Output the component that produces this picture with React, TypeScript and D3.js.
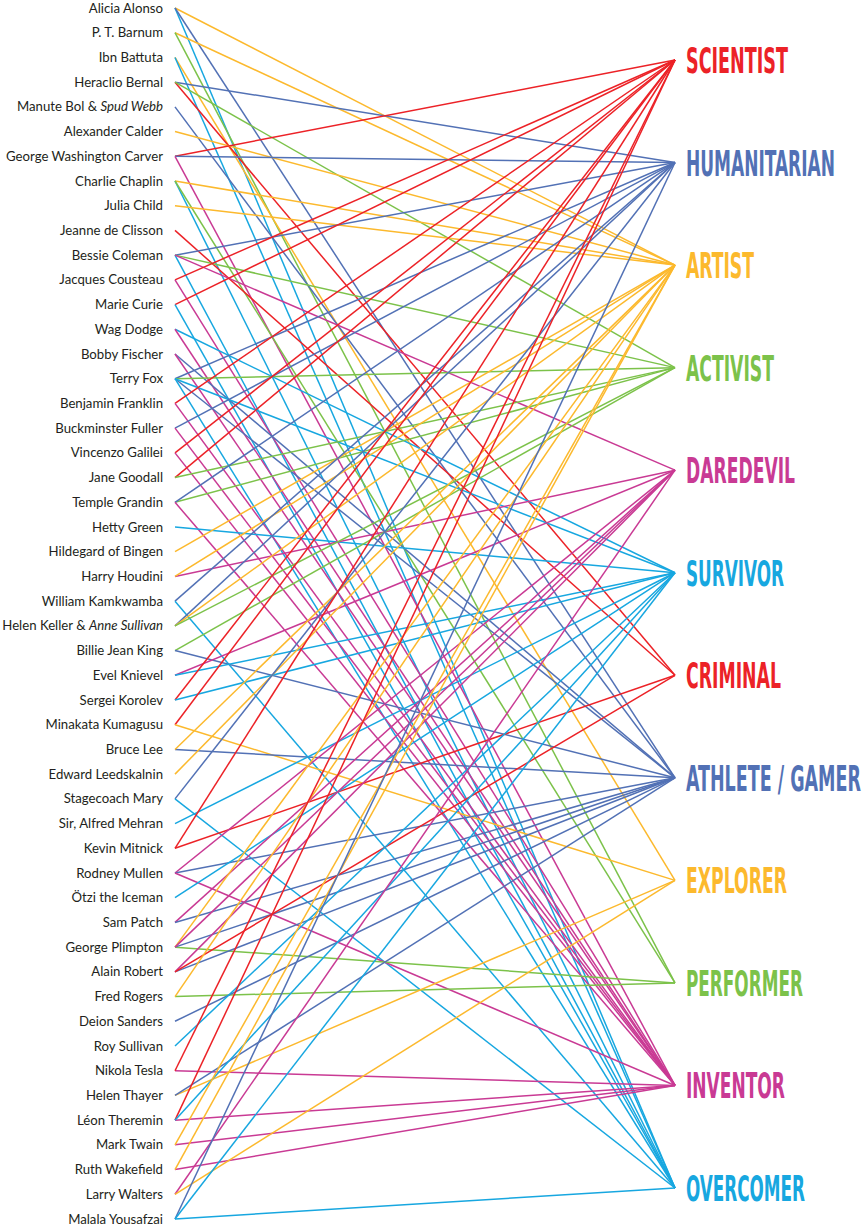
import React, { useLayoutEffect, useRef } from "react";
import * as d3 from "d3";

const people: string[] = [
  "Alicia Alonso", "P. T. Barnum", "Ibn Battuta", "Heraclio Bernal", "Manute Bol & |Spud Webb",
  "Alexander Calder", "George Washington Carver", "Charlie Chaplin", "Julia Child", "Jeanne de Clisson",
  "Bessie Coleman", "Jacques Cousteau", "Marie Curie", "Wag Dodge", "Bobby Fischer",
  "Terry Fox", "Benjamin Franklin", "Buckminster Fuller", "Vincenzo Galilei", "Jane Goodall",
  "Temple Grandin", "Hetty Green", "Hildegard of Bingen", "Harry Houdini", "William Kamkwamba",
  "Helen Keller & |Anne Sullivan", "Billie Jean King", "Evel Knievel", "Sergei Korolev", "Minakata Kumagusu",
  "Bruce Lee", "Edward Leedskalnin", "Stagecoach Mary", "Sir, Alfred Mehran", "Kevin Mitnick",
  "Rodney Mullen", "Ötzi the Iceman", "Sam Patch", "George Plimpton", "Alain Robert",
  "Fred Rogers", "Deion Sanders", "Roy Sullivan", "Nikola Tesla", "Helen Thayer",
  "Léon Theremin", "Mark Twain", "Ruth Wakefield", "Larry Walters", "Malala Yousafzai",
];

const categories: string[] = [
  "SCIENTIST", "HUMANITARIAN", "ARTIST", "ACTIVIST", "DAREDEVIL", "SURVIVOR",
  "CRIMINAL", "ATHLETE / GAMER", "EXPLORER", "PERFORMER", "INVENTOR", "OVERCOMER",
];

const categoryColors: string[] = [
  "#ec2227", "#5271b5", "#fcb92d", "#7cc24a", "#c93a94", "#17a7e0",
  "#ec2227", "#5271b5", "#fcb92d", "#7cc24a", "#c93a94", "#17a7e0",
];

const labelWidths: number[] = [102, 149, 68, 88, 109, 98, 95, 175, 101, 117, 99, 119];

// categories linked to each person (same order as people)
const connections: string[][] = [
  ["ARTIST", "OVERCOMER", "ATHLETE / GAMER"],
  ["ARTIST", "PERFORMER"],
  ["EXPLORER", "OVERCOMER"],
  ["HUMANITARIAN", "CRIMINAL", "ACTIVIST"],
  ["ATHLETE / GAMER"],
  ["ARTIST"],
  ["SCIENTIST", "HUMANITARIAN", "INVENTOR"],
  ["ARTIST", "OVERCOMER", "PERFORMER"],
  ["ARTIST"],
  ["CRIMINAL"],
  ["HUMANITARIAN", "ACTIVIST", "OVERCOMER", "DAREDEVIL"],
  ["SCIENTIST", "INVENTOR"],
  ["SCIENTIST", "OVERCOMER"],
  ["SURVIVOR", "INVENTOR"],
  ["ATHLETE / GAMER", "INVENTOR"],
  ["HUMANITARIAN", "ACTIVIST", "ATHLETE / GAMER", "SURVIVOR", "OVERCOMER"],
  ["SCIENTIST", "INVENTOR"],
  ["HUMANITARIAN", "INVENTOR"],
  ["SCIENTIST", "INVENTOR"],
  ["SCIENTIST", "ACTIVIST"],
  ["ACTIVIST", "HUMANITARIAN", "INVENTOR"],
  ["SURVIVOR"],
  ["ARTIST"],
  ["DAREDEVIL", "ARTIST"],
  ["HUMANITARIAN", "OVERCOMER"],
  ["HUMANITARIAN", "ARTIST", "ACTIVIST"],
  ["ACTIVIST", "ATHLETE / GAMER"],
  ["DAREDEVIL", "SURVIVOR"],
  ["SCIENTIST", "SURVIVOR"],
  ["SCIENTIST", "EXPLORER"],
  ["ATHLETE / GAMER", "ARTIST"],
  ["ARTIST"],
  ["HUMANITARIAN", "OVERCOMER"],
  ["SURVIVOR"],
  ["CRIMINAL", "SCIENTIST"],
  ["DAREDEVIL", "ATHLETE / GAMER", "INVENTOR"],
  ["SURVIVOR"],
  ["DAREDEVIL", "ATHLETE / GAMER"],
  ["PERFORMER", "ATHLETE / GAMER", "ARTIST", "DAREDEVIL"],
  ["DAREDEVIL", "ATHLETE / GAMER", "CRIMINAL"],
  ["PERFORMER", "ARTIST"],
  ["ATHLETE / GAMER"],
  ["SURVIVOR"],
  ["INVENTOR", "SCIENTIST"],
  ["EXPLORER", "ATHLETE / GAMER"],
  ["SCIENTIST", "INVENTOR", "SURVIVOR"],
  ["INVENTOR", "ARTIST"],
  ["INVENTOR", "ARTIST"],
  ["DAREDEVIL", "EXPLORER"],
  ["HUMANITARIAN", "SURVIVOR", "OVERCOMER"],
];

const W = 863;
const H = 1227;

export default function App() {
  const labelsRef = useRef<SVGGElement>(null);
  const yPeople = d3.scalePoint<string>().domain(people).range([8, 1219]);
  const yCat = d3.scalePoint<string>().domain(categories).range([60, 1188]);
  const color = d3.scaleOrdinal<string, string>().domain(categories).range(categoryColors);
  const width = d3.scaleOrdinal<string, number>().domain(categories).range(labelWidths);
  const xLeft = 175;
  const xRight = 675;
  const xLabel = 686;
  const line = d3.line<[number, number]>();

  const links: { p: string; c: string }[] = [];
  people.forEach((p, i) => connections[i].forEach((c) => links.push({ p, c })));

  useLayoutEffect(() => {
    if (!labelsRef.current) return;
    d3.select(labelsRef.current)
      .selectAll<SVGTextElement, string>("text")
      .each(function () {
        const c = this.getAttribute("data-cat") || "";
        const len = this.getComputedTextLength();
        const sx = len > 0 ? width(c) / len : 1;
        this.setAttribute("transform", `translate(${xLabel},${yCat(c)}) scale(${sx},1)`);
      });
  }, []);

  return (
    <svg width={W} height={H} style={{ position: "absolute", left: 0, top: 0, background: "#fff" }}>
      <g>
        {links.map((l, i) => (
          <path
            key={i}
            d={line([[xLeft, yPeople(l.p)!], [xRight, yCat(l.c)!]]) || ""}
            stroke={color(l.c)}
            strokeWidth={1.5}
            fill="none"
          />
        ))}
      </g>
      <g fontFamily="Lato, 'Open Sans', sans-serif" fontSize={13.2} fill="#231f20" textAnchor="end">
        {people.map((p) => {
          const [a, b] = p.split("|");
          return (
            <text key={p} x={163} y={yPeople(p)!} dy="0.35em">
              {a}
              {b !== undefined && <tspan fontStyle="italic">{b}</tspan>}
            </text>
          );
        })}
      </g>
      <g
        ref={labelsRef}
        fontFamily="'DejaVu Sans Condensed', 'DejaVu Sans', sans-serif"
        fontWeight="bold"
        fontSize={36}
      >
        {categories.map((c) => (
          <text
            key={c}
            data-cat={c}
            transform={`translate(${xLabel},${yCat(c)}) scale(0.55,1)`}
            dy="0.36em"
            fill={color(c)}
          >
            {c}
          </text>
        ))}
      </g>
    </svg>
  );
}
